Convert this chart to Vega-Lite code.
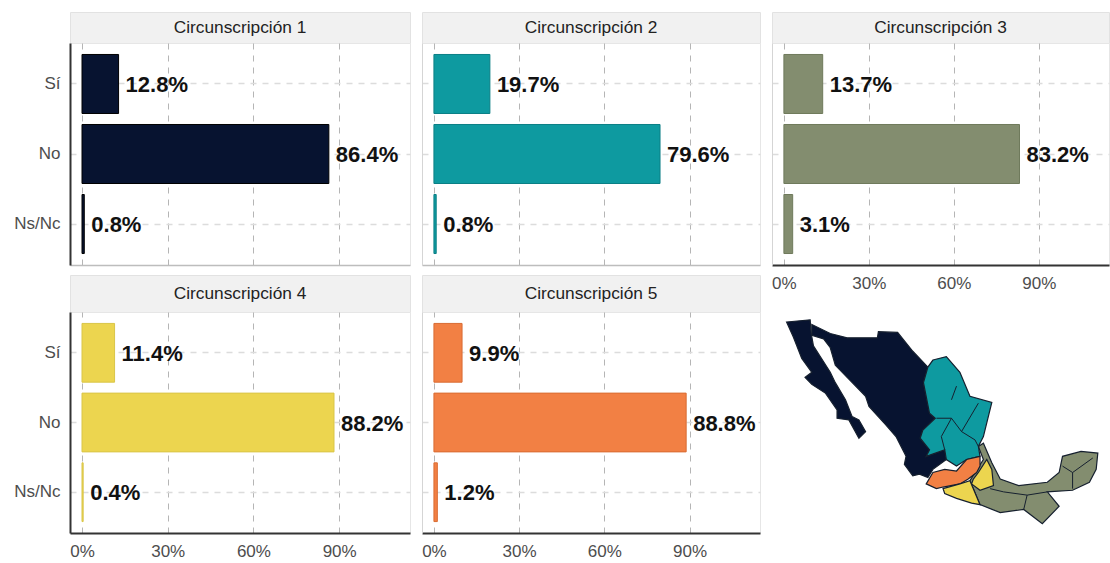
{"$schema":"https://vega.github.io/schema/vega-lite/v6.json","background":"white","padding":{"left":13,"top":11,"right":0,"bottom":0},"spacing":{"row":0,"column":12},"bounds":"flush","columns":3,"datasets":{"bars":[{"circ":"Circunscripción 1","resp":"Sí","value":0.128},{"circ":"Circunscripción 1","resp":"No","value":0.864},{"circ":"Circunscripción 1","resp":"Ns/Nc","value":0.008},{"circ":"Circunscripción 2","resp":"Sí","value":0.197},{"circ":"Circunscripción 2","resp":"No","value":0.796},{"circ":"Circunscripción 2","resp":"Ns/Nc","value":0.008},{"circ":"Circunscripción 3","resp":"Sí","value":0.137},{"circ":"Circunscripción 3","resp":"No","value":0.832},{"circ":"Circunscripción 3","resp":"Ns/Nc","value":0.031},{"circ":"Circunscripción 4","resp":"Sí","value":0.114},{"circ":"Circunscripción 4","resp":"No","value":0.882},{"circ":"Circunscripción 4","resp":"Ns/Nc","value":0.004},{"circ":"Circunscripción 5","resp":"Sí","value":0.099},{"circ":"Circunscripción 5","resp":"No","value":0.888},{"circ":"Circunscripción 5","resp":"Ns/Nc","value":0.012}]},"config":{"font":"Liberation Sans","view":{"stroke":"#e6e6e6"},"axis":{"title":null,"ticks":false,"labelFont":"Liberation Sans","labelFontSize":17,"labelColor":"#4d4d4d"}},"concat":[
{"width":340,"height":31,"view":{"fill":"#f1f1f1","stroke":"#e2e2e2"},"data":{"values":[{"t":"Circunscripción 1"}]},"mark":{"type":"text","fontSize":17.3,"color":"#222222"},"encoding":{"text":{"field":"t"}}},
{"width":338,"height":31,"view":{"fill":"#f1f1f1","stroke":"#e2e2e2"},"data":{"values":[{"t":"Circunscripción 2"}]},"mark":{"type":"text","fontSize":17.3,"color":"#222222"},"encoding":{"text":{"field":"t"}}},
{"width":337,"height":31,"view":{"fill":"#f1f1f1","stroke":"#e2e2e2"},"data":{"values":[{"t":"Circunscripción 3"}]},"mark":{"type":"text","fontSize":17.3,"color":"#222222"},"encoding":{"text":{"field":"t"}}},
{"width":340,"height":222,"data":{"name":"bars"},"transform":[{"filter":"datum.circ==='Circunscripción 1'"}],"encoding":{"x":{"field":"value","type":"quantitative","scale":{"domain":[-0.042,1.148]},"axis":{"values":[0,0.3,0.6,0.9],"format":".0%","labels":false,"domainColor":"#bdbdbd","domainWidth":1.5,"gridColor":"#b5b5b5","gridDash":[6,6]}},"y":{"field":"resp","type":"nominal","sort":["Sí","No","Ns/Nc"],"scale":{"paddingInner":0.157,"paddingOuter":0.164},"axis":{"labelPadding":10,"domainColor":"#333333","domainWidth":2,"grid":true,"gridColor":"#dcdcdc","gridWidth":1.5,"gridDash":[6,6]}}},"layer":[{"mark":{"type":"bar","strokeWidth":1},"encoding":{"fill":{"field":"circ","legend":null,"scale":{"domain":["Circunscripción 1","Circunscripción 2","Circunscripción 3","Circunscripción 4","Circunscripción 5"],"range":["#071330","#0e9aa0","#838d6f","#ecd54f","#f28044"]}},"stroke":{"field":"circ","legend":null,"scale":{"domain":["Circunscripción 1","Circunscripción 2","Circunscripción 3","Circunscripción 4","Circunscripción 5"],"range":["#000000","#0b7f85","#6f7a5c","#d9c548","#d96c33"]}}}},{"mark":{"type":"text","align":"left","dx":7,"dy":1,"fontSize":22,"fontWeight":"bold","color":"#111111"},"encoding":{"text":{"field":"value","type":"quantitative","format":".1%"}}}]},
{"width":338,"height":222,"data":{"name":"bars"},"transform":[{"filter":"datum.circ==='Circunscripción 2'"}],"encoding":{"x":{"field":"value","type":"quantitative","scale":{"domain":[-0.042,1.148]},"axis":{"values":[0,0.3,0.6,0.9],"format":".0%","labels":false,"domainColor":"#bdbdbd","domainWidth":1.5,"gridColor":"#b5b5b5","gridDash":[6,6]}},"y":{"field":"resp","type":"nominal","sort":["Sí","No","Ns/Nc"],"scale":{"paddingInner":0.157,"paddingOuter":0.164},"axis":{"labels":false,"domainColor":"#d5d5d5","grid":true,"gridColor":"#dcdcdc","gridWidth":1.5,"gridDash":[6,6]}}},"layer":[{"mark":{"type":"bar","strokeWidth":1},"encoding":{"fill":{"field":"circ","legend":null,"scale":{"domain":["Circunscripción 1","Circunscripción 2","Circunscripción 3","Circunscripción 4","Circunscripción 5"],"range":["#071330","#0e9aa0","#838d6f","#ecd54f","#f28044"]}},"stroke":{"field":"circ","legend":null,"scale":{"domain":["Circunscripción 1","Circunscripción 2","Circunscripción 3","Circunscripción 4","Circunscripción 5"],"range":["#000000","#0b7f85","#6f7a5c","#d9c548","#d96c33"]}}}},{"mark":{"type":"text","align":"left","dx":7,"dy":1,"fontSize":22,"fontWeight":"bold","color":"#111111"},"encoding":{"text":{"field":"value","type":"quantitative","format":".1%"}}}]},
{"width":337,"height":222,"data":{"name":"bars"},"transform":[{"filter":"datum.circ==='Circunscripción 3'"}],"encoding":{"x":{"field":"value","type":"quantitative","scale":{"domain":[-0.042,1.148]},"axis":{"values":[0,0.3,0.6,0.9],"format":".0%","labelPadding":10,"domainColor":"#333333","domainWidth":2,"gridColor":"#b5b5b5","gridDash":[6,6]}},"y":{"field":"resp","type":"nominal","sort":["Sí","No","Ns/Nc"],"scale":{"paddingInner":0.157,"paddingOuter":0.164},"axis":{"labels":false,"domainColor":"#d5d5d5","grid":true,"gridColor":"#dcdcdc","gridWidth":1.5,"gridDash":[6,6]}}},"layer":[{"mark":{"type":"bar","strokeWidth":1},"encoding":{"fill":{"field":"circ","legend":null,"scale":{"domain":["Circunscripción 1","Circunscripción 2","Circunscripción 3","Circunscripción 4","Circunscripción 5"],"range":["#071330","#0e9aa0","#838d6f","#ecd54f","#f28044"]}},"stroke":{"field":"circ","legend":null,"scale":{"domain":["Circunscripción 1","Circunscripción 2","Circunscripción 3","Circunscripción 4","Circunscripción 5"],"range":["#000000","#0b7f85","#6f7a5c","#d9c548","#d96c33"]}}}},{"mark":{"type":"text","align":"left","dx":7,"dy":1,"fontSize":22,"fontWeight":"bold","color":"#111111"},"encoding":{"text":{"field":"value","type":"quantitative","format":".1%"}}}]},
{"width":340,"height":10,"view":{"stroke":null},"data":{"values":[{"t":""}]},"mark":{"type":"text"},"encoding":{"text":{"field":"t"}}},
{"width":338,"height":10,"view":{"stroke":null},"data":{"values":[{"t":""}]},"mark":{"type":"text"},"encoding":{"text":{"field":"t"}}},
{"width":337,"height":10,"view":{"stroke":null},"data":{"values":[{"t":""}]},"mark":{"type":"text"},"encoding":{"text":{"field":"t"}}},
{"width":340,"height":37,"view":{"fill":"#f1f1f1","stroke":"#e2e2e2"},"data":{"values":[{"t":"Circunscripción 4"}]},"mark":{"type":"text","fontSize":17.3,"color":"#222222"},"encoding":{"text":{"field":"t"}}},
{"width":338,"height":37,"view":{"fill":"#f1f1f1","stroke":"#e2e2e2"},"data":{"values":[{"t":"Circunscripción 5"}]},"mark":{"type":"text","fontSize":17.3,"color":"#222222"},"encoding":{"text":{"field":"t"}}},
{"width":337,"height":37,"view":{"stroke":null},"data":{"values":[{"t":""}]},"mark":{"type":"text"},"encoding":{"text":{"field":"t"}}},
{"width":340,"height":221,"data":{"name":"bars"},"transform":[{"filter":"datum.circ==='Circunscripción 4'"}],"encoding":{"x":{"field":"value","type":"quantitative","scale":{"domain":[-0.042,1.148]},"axis":{"values":[0,0.3,0.6,0.9],"format":".0%","labelPadding":10,"domainColor":"#333333","domainWidth":2,"gridColor":"#b5b5b5","gridDash":[6,6]}},"y":{"field":"resp","type":"nominal","sort":["Sí","No","Ns/Nc"],"scale":{"paddingInner":0.157,"paddingOuter":0.164},"axis":{"labelPadding":10,"domainColor":"#333333","domainWidth":2,"grid":true,"gridColor":"#dcdcdc","gridWidth":1.5,"gridDash":[6,6]}}},"layer":[{"mark":{"type":"bar","strokeWidth":1},"encoding":{"fill":{"field":"circ","legend":null,"scale":{"domain":["Circunscripción 1","Circunscripción 2","Circunscripción 3","Circunscripción 4","Circunscripción 5"],"range":["#071330","#0e9aa0","#838d6f","#ecd54f","#f28044"]}},"stroke":{"field":"circ","legend":null,"scale":{"domain":["Circunscripción 1","Circunscripción 2","Circunscripción 3","Circunscripción 4","Circunscripción 5"],"range":["#000000","#0b7f85","#6f7a5c","#d9c548","#d96c33"]}}}},{"mark":{"type":"text","align":"left","dx":7,"dy":1,"fontSize":22,"fontWeight":"bold","color":"#111111"},"encoding":{"text":{"field":"value","type":"quantitative","format":".1%"}}}]},
{"width":338,"height":221,"data":{"name":"bars"},"transform":[{"filter":"datum.circ==='Circunscripción 5'"}],"encoding":{"x":{"field":"value","type":"quantitative","scale":{"domain":[-0.042,1.148]},"axis":{"values":[0,0.3,0.6,0.9],"format":".0%","labelPadding":10,"domainColor":"#333333","domainWidth":2,"gridColor":"#b5b5b5","gridDash":[6,6]}},"y":{"field":"resp","type":"nominal","sort":["Sí","No","Ns/Nc"],"scale":{"paddingInner":0.157,"paddingOuter":0.164},"axis":{"labels":false,"domainColor":"#d5d5d5","grid":true,"gridColor":"#dcdcdc","gridWidth":1.5,"gridDash":[6,6]}}},"layer":[{"mark":{"type":"bar","strokeWidth":1},"encoding":{"fill":{"field":"circ","legend":null,"scale":{"domain":["Circunscripción 1","Circunscripción 2","Circunscripción 3","Circunscripción 4","Circunscripción 5"],"range":["#071330","#0e9aa0","#838d6f","#ecd54f","#f28044"]}},"stroke":{"field":"circ","legend":null,"scale":{"domain":["Circunscripción 1","Circunscripción 2","Circunscripción 3","Circunscripción 4","Circunscripción 5"],"range":["#000000","#0b7f85","#6f7a5c","#d9c548","#d96c33"]}}}},{"mark":{"type":"text","align":"left","dx":7,"dy":1,"fontSize":22,"fontWeight":"bold","color":"#111111"},"encoding":{"text":{"field":"value","type":"quantitative","format":".1%"}}}]},
{"width":337,"height":221,"view":{"stroke":null},"projection":{"type":"mercator","scale":588,"center":[-102.1,23.88],"translate":[168.5,110.5]},"data":{"values":{"type":"FeatureCollection","features":[
{"type":"Feature","properties":{"circ":"Circunscripción 3"},"geometry":{"type":"Polygon","coordinates":[[[-98.41,21.73],[-97.92,22.02],[-97.10,20.24],[-96.28,18.75],[-94.48,18.15],[-91.69,18.45],[-90.54,19.35],[-90.21,20.83],[-88.41,21.28],[-86.77,21.13],[-86.93,19.64],[-87.59,18.45],[-89.23,17.71],[-91.69,17.56],[-90.54,16.22],[-92.18,14.58],[-93.99,15.92],[-96.28,15.63],[-98.25,16.37],[-99.23,18.60],[-97.92,20.54],[-98.41,21.73]]]}},
{"type":"Feature","properties":{"circ":"Circunscripción 1"},"geometry":{"type":"Polygon","coordinates":[[[-117.10,32.5],[-114.80,32.68],[-114.7,31.55],[-114.48,30.51],[-113.49,29.17],[-112.84,28.27],[-112.35,27.38],[-111.36,25.89],[-110.71,24.40],[-110.05,24.11],[-109.40,23.07],[-110.05,22.47],[-111.03,24.11],[-112.18,24.26],[-112.18,25.0],[-113.33,26.49],[-114.64,27.23],[-115.30,27.83],[-114.64,28.27],[-115.62,29.46],[-116.44,31.25],[-117.10,32.5]]]}},
{"type":"Feature","properties":{"circ":"Circunscripción 1"},"geometry":{"type":"Polygon","coordinates":[[[-114.64,32.29],[-112.84,31.55],[-111.2,31.19],[-108.25,31.19],[-108.15,31.70],[-106.28,31.64],[-104.80,30.06],[-103.33,28.72],[-103.76,27.38],[-103.17,24.70],[-102.61,24.26],[-103.82,23.21],[-104.08,22.47],[-103.17,21.43],[-103.49,20.83],[-101.69,21.43],[-101.53,20.54],[-102.84,19.64],[-103.33,18.90],[-104.15,19.20],[-104.80,19.05],[-105.62,20.09],[-105.46,20.83],[-106.44,22.62],[-107.43,23.66],[-109.07,25.30],[-109.40,26.19],[-111.03,27.68],[-112.35,28.87],[-112.84,30.36],[-113.49,31.10],[-114.64,31.40],[-114.64,32.29]]]}},
{"type":"Feature","properties":{"circ":"Circunscripción 2"},"geometry":{"type":"Polygon","coordinates":[[[-102.84,29.32],[-101.53,29.61],[-100.21,28.27],[-99.23,26.19],[-97.10,25.65],[-97.92,22.62],[-98.41,21.73],[-98.25,20.83],[-99.56,20.54],[-100.54,19.94],[-101.53,20.54],[-101.69,21.43],[-103.49,20.83],[-103.17,21.43],[-104.08,22.47],[-103.82,23.21],[-102.61,24.26],[-103.17,24.70],[-103.76,27.38],[-103.33,28.72],[-102.84,29.32]]]}},
{"type":"Feature","properties":{"circ":"Circunscripción 5"},"geometry":{"type":"Polygon","coordinates":[[[-103.49,18.30],[-102.84,19.35],[-101.69,19.64],[-100.54,19.49],[-99.56,20.54],[-98.25,20.83],[-98.25,19.94],[-98.58,19.35],[-99.40,18.75],[-100.21,18.30],[-101.85,18.01],[-102.5,17.86],[-103.49,18.30]]]}},
{"type":"Feature","properties":{"circ":"Circunscripción 4"},"geometry":{"type":"Polygon","coordinates":[[[-101.85,17.86],[-100.21,18.30],[-99.23,18.60],[-98.25,16.37],[-99.07,16.52],[-100.54,16.96],[-101.69,17.41],[-101.85,17.86]]]}},
{"type":"Feature","properties":{"circ":"Circunscripción 4"},"geometry":{"type":"Polygon","coordinates":[[[-98.9,18.75],[-98.41,19.35],[-97.59,20.54],[-97.10,19.64],[-96.94,18.15],[-98.25,17.71],[-99.07,18.30],[-98.9,18.75]]]}}
]},"format":{"type":"json","property":"features"}},"layer":[{"mark":{"type":"geoshape","stroke":"#16202f","strokeWidth":1.2},"encoding":{"fill":{"field":"properties.circ","legend":null,"scale":{"domain":["Circunscripción 1","Circunscripción 2","Circunscripción 3","Circunscripción 4","Circunscripción 5"],"range":["#071330","#0e9aa0","#838d6f","#ecd54f","#f28044"]}}}},{"data":{"values":{"type":"FeatureCollection","features":[
{"type":"Feature","properties":{},"geometry":{"type":"MultiLineString","coordinates":[[[-102.5,24.26],[-101.03,24.26],[-100.05,23.07],[-98.41,25.59]],[[-101.03,25.89],[-100.54,27.08]],[[-101.03,24.26],[-102.02,22.62],[-101.69,21.43]],[[-100.05,23.07],[-98.74,22.32],[-98.41,21.73]],[[-90.21,19.94],[-89.23,19.35],[-89.23,17.86]],[[-89.23,19.35],[-87.26,20.68]],[[-97.26,17.86],[-95.95,17.56],[-93.66,17.26],[-93.99,15.92]],[[-93.66,17.26],[-91.69,17.56]]]}}
]},"format":{"type":"json","property":"features"}},"mark":{"type":"geoshape","filled":false,"stroke":"#16202f","strokeWidth":1}}]}
]}
